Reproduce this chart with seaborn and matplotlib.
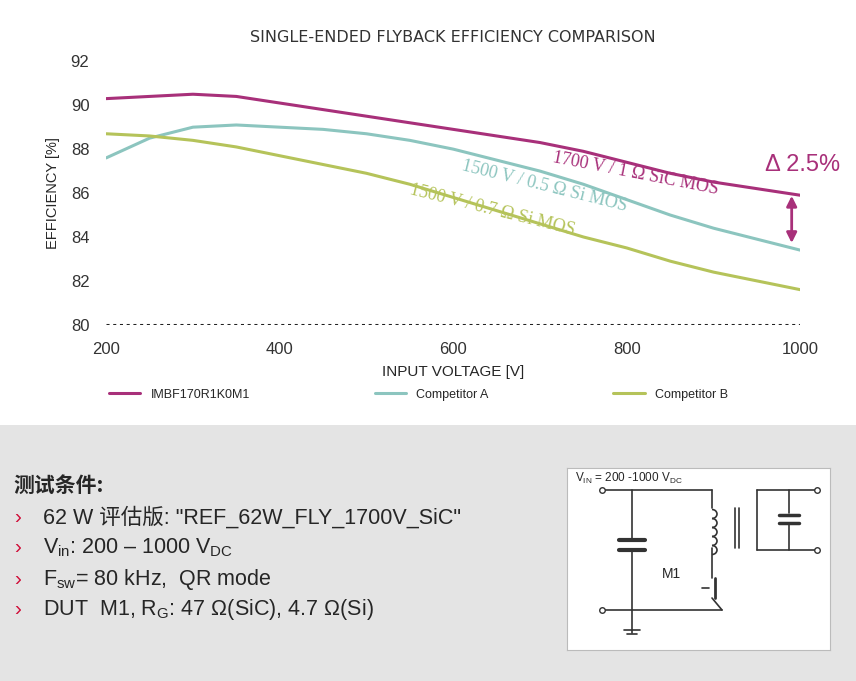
import matplotlib
matplotlib.use("Agg")
import matplotlib.pyplot as plt
import seaborn as sns
import pandas as pd
from matplotlib.patches import Rectangle, Arc

voltage = [200, 250, 300, 350, 400, 450, 500, 550, 600, 650, 700, 750, 800, 850, 900, 950, 1000]
eff_sic = [90.3, 90.4, 90.5, 90.4, 90.1, 89.8, 89.5, 89.2, 88.9, 88.6, 88.3, 87.9, 87.4, 86.9, 86.5, 86.2, 85.9]
eff_a = [87.6, 88.5, 89.0, 89.1, 89.0, 88.9, 88.7, 88.4, 88.0, 87.5, 87.0, 86.4, 85.7, 85.0, 84.4, 83.9, 83.4]
eff_b = [88.7, 88.6, 88.4, 88.1, 87.7, 87.3, 86.9, 86.4, 85.8, 85.2, 84.6, 84.0, 83.5, 82.9, 82.4, 82.0, 81.6]
series = ["IMBF170R1K0M1", "Competitor A", "Competitor B"]
colors = ["#a8307a", "#8cc5bf", "#b5c35a"]

df = pd.concat([
    pd.DataFrame({"v": voltage, "eff": e, "device": s})
    for e, s in zip([eff_sic, eff_a, eff_b], series)
])

sns.set_style("white")
plt.rcParams["font.family"] = ["Liberation Sans", "Noto Sans CJK SC", "DejaVu Sans"]
plt.rcParams["mathtext.fontset"] = "custom"
plt.rcParams["mathtext.rm"] = "Liberation Sans"

fig = plt.figure(figsize=(8.56, 6.81), dpi=100)
fig.patch.set_facecolor("#e4e4e4")
fig.add_artist(Rectangle((0, 1 - 425 / 681), 1, 425 / 681, transform=fig.transFigure,
                         facecolor="white", edgecolor="none", zorder=0))

ax = fig.add_axes([0.124, 0.523, 0.811, 0.387])
ax.set_facecolor("none")
sns.lineplot(data=df, x="v", y="eff", hue="device", palette=colors, linewidth=2.2, ax=ax)
for s in ax.spines.values():
    s.set_visible(False)
ax.axhline(80, color="#222222", linestyle=(0, (1, 1.2)), linewidth=2.2)
ax.set_xlim(200, 1000)
ax.set_ylim(80, 92)
ax.set_xticks(range(200, 1001, 200))
ax.set_yticks(range(80, 93, 2))
ax.tick_params(labelsize=12, colors="#333333", length=0)
ax.tick_params(axis="y", pad=12)
ax.tick_params(axis="x", pad=12)
ax.set_xlabel("INPUT VOLTAGE [V]", fontsize=11, labelpad=6)
ax.set_ylabel("EFFICIENCY [%]", fontsize=10.5, labelpad=8)
ax.set_title("SINGLE-ENDED FLYBACK EFFICIENCY COMPARISON", fontsize=11.5,
             color="#333333", pad=14, fontfamily="DejaVu Sans")

ax.text(810, 86.9, "1700 V / 1 Ω SiC MOS", color=colors[0], fontsize=13, rotation=-11,
        ha="center", va="center", fontfamily="Liberation Serif")
ax.text(705, 86.3, "1500 V / 0.5 Ω Si MOS", color=colors[1], fontsize=13, rotation=-14,
        ha="center", va="center", fontfamily="Liberation Serif")
ax.text(645, 85.2, "1500 V / 0.7 Ω Si MOS", color=colors[2], fontsize=13, rotation=-14,
        ha="center", va="center", fontfamily="Liberation Serif")
ax.annotate("", xy=(990, 83.6), xytext=(990, 86.0),
            arrowprops=dict(arrowstyle="<|-|>", color=colors[0], lw=2, mutation_scale=15))
ax.text(1003, 87.3, "Δ 2.5%", color=colors[0], fontsize=17, ha="center", va="center",
        clip_on=False)

ax.legend(handles=ax.get_lines()[:3], labels=series, loc="upper center",
          bbox_to_anchor=(0.45, -0.2), ncol=3, frameon=False, fontsize=9,
          handlelength=2.5, columnspacing=10)

# bottom panel text
fig.text(0.016, 1 - 485 / 681, "测试条件:", fontsize=15, fontweight="bold", va="center",
         family=["Noto Sans CJK SC", "DejaVu Sans"])
lines = ['62 W 评估版: "REF_62W_FLY_1700V_SiC"',
         r"V$_{\mathregular{in}}$: 200 – 1000 V$_{\mathregular{DC}}$",
         r"F$_{\mathregular{sw}}$= 80 kHz,  QR mode",
         r"DUT  M1, R$_{\mathregular{G}}$: 47 Ω(SiC), 4.7 Ω(Si)"]
for i, t in enumerate(lines):
    y = 1 - (517 + i * 31) / 681
    fig.text(0.016, y, "›", color="#d0103a", fontsize=15, va="center")
    fig.text(0.05, y, t, fontsize=15.5, va="center",
             family=["Liberation Sans", "Noto Sans CJK SC", "DejaVu Sans"])

# schematic box
cax = fig.add_axes([567 / 856, 1 - 650 / 681, 263 / 856, 182 / 681])
cax.set_xlim(0, 263)
cax.set_ylim(182, 0)
cax.set_xticks([])
cax.set_yticks([])
cax.set_facecolor("white")
for s in cax.spines.values():
    s.set_color("#bbbbbb")
k = dict(color="#333333", lw=1.2)
cax.plot([35, 145], [22, 22], **k)
cax.plot([65, 65], [22, 70], **k)
cax.plot([52, 78], [72, 72], lw=3, color="#333333")
cax.plot([52, 78], [82, 82], lw=3, color="#333333")
cax.plot([65, 65], [84, 165], **k)
cax.plot([35, 155], [142, 142], **k)
cax.plot([57, 73], [162, 162], **k)
cax.plot([60, 70], [166, 166], **k)
cax.plot([145, 145], [22, 40], **k)
cax.plot([145, 145], [80, 110], **k)
cax.plot([148, 148], [110, 130], lw=2, color="#333333")
cax.plot([145, 155], [130, 142], **k)
cax.plot([135, 142], [120, 120], **k)
for yy in range(42, 80, 9):
    cax.add_patch(Arc((145, yy + 4), 10, 9, theta1=-90, theta2=90, **k))
cax.plot([168, 168], [40, 80], **k)
cax.plot([172, 172], [40, 80], **k)
cax.plot([190, 250], [22, 22], **k)
cax.plot([190, 190], [22, 82], **k)
cax.plot([190, 250], [82, 82], **k)
cax.plot([222, 222], [22, 45], **k)
cax.plot([212, 232], [47, 47], lw=2.5, color="#333333")
cax.plot([212, 232], [55, 55], lw=2.5, color="#333333")
cax.plot([222, 222], [57, 82], **k)
for px, py in [(35, 22), (35, 142), (250, 22), (250, 82)]:
    cax.plot(px, py, "o", ms=4, mfc="white", mec="#333333")
cax.text(8, 14, r"V$_{\mathregular{IN}}$ = 200 -1000 V$_{\mathregular{DC}}$", fontsize=8.5)
cax.text(95, 110, "M1", fontsize=10)

fig.savefig("out.png", dpi=100)
